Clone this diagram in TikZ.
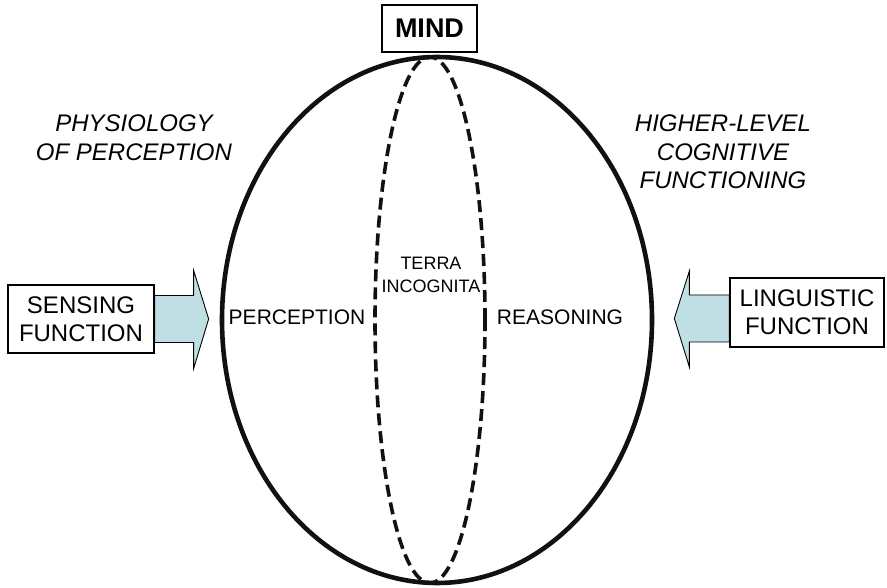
\documentclass[tikz,border=0pt]{standalone}
\usepackage{fontspec}
\setmainfont{Liberation Sans}
\usepackage{tikz}
\definecolor{arrowfill}{HTML}{BFDFE4}
\definecolor{inkblack}{HTML}{111111}

\begin{document}
\begin{tikzpicture}[x=1pt,y=-1pt,
  fbox/.style={draw,line width=1.3pt,fill=white,inner sep=0pt,align=center,
    font=\fontsize{24}{28}\selectfont},
  fatarrow/.style={draw,line width=0.9pt,fill=arrowfill,line join=miter},
  sidenote/.style={align=center,font=\fontsize{24}{28.5}\selectfont\itshape},
  region/.style={font=\fontsize{21}{24}\selectfont}]
  \useasboundingbox (0,0) rectangle (887,588);
  % the mind and its unknown middle
  \draw[inkblack,line width=4.6pt] (437,320) ellipse [x radius=215pt, y radius=263pt];
  \draw[inkblack,line width=3.6pt,dash pattern=on 12pt off 6pt]
    (430,320) ellipse [x radius=55pt, y radius=263pt];
  \node[draw,line width=1.3pt,fill=white,minimum width=95pt,minimum height=47pt,
    inner sep=0pt,font=\fontsize{27}{30}\selectfont\bfseries] (mind) at (429.5,28.5) {MIND};
  \node[region] (percept) at (297,317.5) {PERCEPTION};
  \node[region] (reason) at (560,317.5) {REASONING};
  \node[align=center,font=\fontsize{18}{23}\selectfont] (terra) at (431,275) {TERRA\\INCOGNITA};
  % side notes
  \node[sidenote] (physio) at (134,137.5) {PHYSIOLOGY\\OF PERCEPTION};
  \node[sidenote] (higher) at (723,152) {HIGHER-LEVEL\\COGNITIVE\\FUNCTIONING};
  % inputs
  \node[fbox,minimum width=146pt,minimum height=68pt] (sense) at (81,319) {SENSING\\FUNCTION};
  \node[fbox,minimum width=154pt,minimum height=69pt] (lingo) at (807,312.5) {LINGUISTIC\\FUNCTION};
  \draw[fatarrow] (sense.east) ++(0,-23.5) -- ++(39,0) -- ++(0,-25) -- ++(15,48.5)
    -- ++(-15,49.5) -- ++(0,-26) -- ++(-39,0) -- cycle;
  \draw[fatarrow] ([yshift=-6pt]lingo.west) ++(0,-23.5) -- ++(-40,0) -- ++(0,-24)
    -- ++(-15,47.5) -- ++(15,48.5) -- ++(0,-25) -- ++(40,0) -- cycle;
\end{tikzpicture}
\end{document}
